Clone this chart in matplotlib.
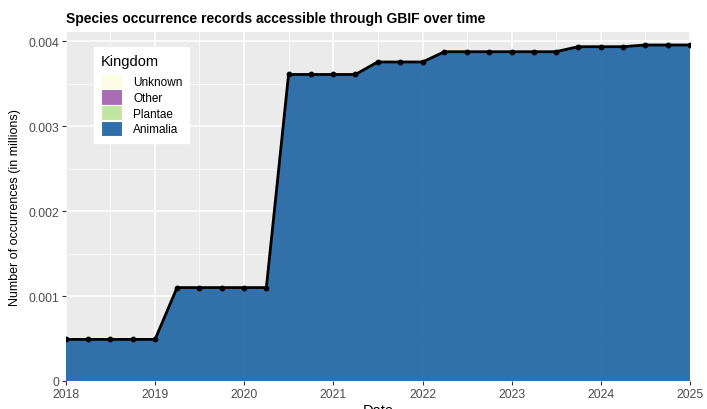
import numpy as np
import pandas as pd
import matplotlib
matplotlib.use('Agg')
import matplotlib.pyplot as plt
import matplotlib.dates as mdates
from matplotlib.patches import Patch
from matplotlib.ticker import MultipleLocator

# quarterly snapshots, 2018 -> 2025
dates = pd.date_range('2018-01-01', '2025-01-01', freq='QS')

# occurrence counts (in millions) per kingdom
animalia = [0.00049, 0.00049, 0.00049, 0.00049, 0.00049,
            0.00110, 0.00110, 0.00110, 0.00110, 0.00110,
            0.00361, 0.00361, 0.00361, 0.00361,
            0.003757, 0.003757, 0.003757,
            0.003878, 0.003878, 0.003878, 0.003878, 0.003878, 0.003878,
            0.003937, 0.003937, 0.003937,
            0.003957, 0.003957, 0.003957]
plantae = [0.0] * len(animalia)
other = [0.0] * len(animalia)
unknown = [0.0] * len(animalia)

kingdoms = ['Unknown', 'Other', 'Plantae', 'Animalia']
colors = {'Unknown': '#FCFDE3', 'Other': '#A86CB4',
          'Plantae': '#C2E6A0', 'Animalia': '#2F6FA8'}

total = np.array(animalia) + np.array(plantae) + np.array(other) + np.array(unknown)

plt.rcParams['font.family'] = ['Liberation Sans', 'DejaVu Sans']

fig = plt.figure(figsize=(7.07, 4.10), dpi=100)
ax = fig.add_axes([66 / 707, 1 - 382 / 410, 624 / 707, 349 / 410])
ax.set_facecolor('#EBEBEB')

# stacked areas, bottom layer first
ax.stackplot(dates, animalia, plantae, other, unknown,
             colors=[colors['Animalia'], colors['Plantae'], colors['Other'], colors['Unknown']],
             alpha=0.99, linewidth=0, zorder=2)
ax.plot(dates, total, color='black', linewidth=2, zorder=3)
ax.scatter(dates, total, color='black', s=10, zorder=4)

ax.set_xlim(dates[0], dates[-1])
ax.set_ylim(0, 0.00411)

ax.xaxis.set_major_locator(mdates.YearLocator())
ax.xaxis.set_minor_locator(mdates.MonthLocator(bymonth=7))
ax.xaxis.set_major_formatter(mdates.DateFormatter('%Y'))
ax.yaxis.set_minor_locator(MultipleLocator(0.0005))
ax.set_yticks([0, 0.001, 0.002, 0.003, 0.004])
ax.set_yticklabels(['0', '0.001', '0.002', '0.003', '0.004'])

ax.grid(which='major', color='white', linewidth=1.1, zorder=1)
ax.grid(which='minor', color='white', linewidth=0.5, zorder=1)
ax.set_axisbelow(True)
for s in ax.spines.values():
    s.set_visible(False)
ax.tick_params(which='major', length=3, width=0.8, color='#333333',
               labelsize=8.8, labelcolor='#4D4D4D', pad=2)
ax.tick_params(which='minor', length=0)

ax.set_xlabel('Date', fontsize=10.5, labelpad=2)
ax.set_ylabel('Number of occurrences (in millions)', fontsize=9,
              family=['Liberation Sans Narrow', 'Liberation Sans'], labelpad=5)
ax.set_title('Species occurrence records accessible through GBIF over time',
             fontsize=10, fontweight='bold', loc='left', pad=7)

handles = [Patch(facecolor=colors[k], edgecolor='white', linewidth=0.8, label=k)
           for k in kingdoms]
leg = ax.legend(handles=handles, title='Kingdom', loc='upper left',
                bbox_to_anchor=(0.045, 0.957), fontsize=8.5, title_fontsize=10.5,
                frameon=True, fancybox=False, edgecolor='white', facecolor='white',
                framealpha=1, handlelength=1.8, handleheight=1.6,
                handletextpad=0.9, labelspacing=0.05, borderpad=0.6,
                borderaxespad=0)
leg._legend_box.align = 'left'
leg._legend_box.sep = 4  # gap between title and keys

fig.savefig('out.png', dpi=100)
